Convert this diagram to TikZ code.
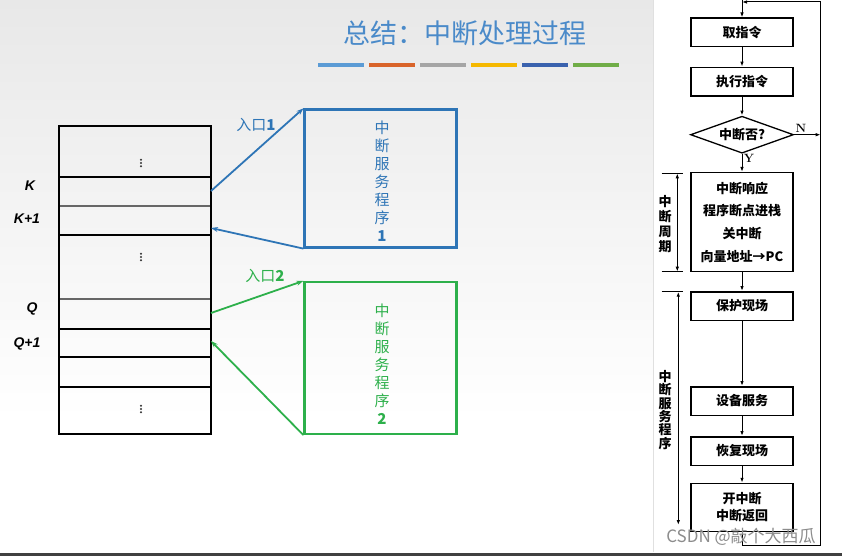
\documentclass[tikz,border=0pt]{standalone}
\usepackage{fontspec}
\newfontfamily\cjk{Noto Sans CJK SC}
\newfontfamily\arialf{Liberation Sans}
\usetikzlibrary{arrows.meta,shapes.geometric,positioning}

\definecolor{titleblue}{HTML}{4A8AC9}
\definecolor{entblue}{HTML}{2E75B6}
\definecolor{entgreen}{HTML}{2DB04B}
\definecolor{barblue}{HTML}{5B9BD5}
\definecolor{barorange}{HTML}{D9642A}
\definecolor{bargray}{HTML}{A5A5A5}
\definecolor{baryellow}{HTML}{F5B800}
\definecolor{bardkblue}{HTML}{3A62AE}
\definecolor{bargreen}{HTML}{70AD47}

\tikzset{
  cell/.style={draw, line width=1.6pt},
  lbl/.style={font=\arialf\bfseries\itshape\fontsize{14}{16}\selectfont},
  svcbox/.style={draw, line width=2.2pt, minimum width=152pt, minimum height=138pt},
  vtext/.style={align=center, font=\cjk\fontsize{15}{18}\selectfont},
  entry/.style={line width=1.8pt, -{Stealth[length=7pt,width=5pt]}},
  fbox/.style={draw, line width=1.5pt, minimum width=102pt, minimum height=28.5pt,
    fill=white, align=center, font=\cjk\bfseries\fontsize{13}{22.7}\selectfont},
  flow/.style={line width=1pt, -{Latex[length=5pt,width=3.5pt]}},
  span/.style={line width=1pt, {Latex[length=5pt,width=3.5pt]}-{Latex[length=5pt,width=3.5pt]}}
}

\begin{document}
\begin{tikzpicture}[x=1pt,y=-1pt]
  % slide background
  \useasboundingbox (0,0) rectangle (842,556);
  \fill[white] (0,0) rectangle (842,556);
  \shade[top color=black!9, bottom color=white] (0,0) rectangle (653,420);
  \fill[white] (653,0) rectangle (842,552);
  \draw[black!12, line width=1pt] (653,0) -- (653,552);
  \fill[black!75] (0,552.5) rectangle (842,556);

  % title and colour bars
  \node[titleblue, font=\cjk\fontsize{27}{30}\selectfont] (title) at (465,33) {总结：中断处理过程};
  \foreach \c [count=\i] in {barblue,barorange,bargray,baryellow,bardkblue,bargreen}
    \fill[\c] ({318+(\i-1)*51},63.5) rectangle ++(45.5,4);

  % memory cells
  \draw[cell] (59,126) rectangle (211,434);
  \foreach \y in {177,235,329,357,387}
    \draw[cell] (59,\y) -- (211,\y);
  \foreach \y in {206,299}
    \draw[cell, black!60, line width=2.2pt] (60,\y) -- (210,\y);
  \foreach \y in {163,257,409}
    \foreach \d in {-3.2,0,3.2}
      \fill[black!80] (141,\y+\d) circle (1.1);
  \node[lbl] (kl) at (30,186) {K};
  \node[lbl] (k1l) at (27,219) {K+1};
  \node[lbl] (ql) at (32,309) {Q};
  \node[lbl] (q1l) at (27,344) {Q+1};
  \coordinate (kout) at (211,191);
  \coordinate (kin) at (211,228);
  \coordinate (qout) at (211,313);
  \coordinate (qin) at (211,341);

  % service routines
  \node[svcbox, draw=entblue] (svc1) at (380.5,178.5) {};
  \node[vtext, entblue] (svc1t) at (382,181) {中\\断\\服\\务\\程\\序\\\textbf{1}};
  \node[svcbox, draw=entgreen, minimum height=152pt] (svc2) at (380.5,358) {};
  \node[vtext, entgreen] (svc2t) at (382,364) {中\\断\\服\\务\\程\\序\\\textbf{2}};

  \draw[entry, entblue] (kout) -- (svc1.north west);
  \draw[entry, entblue] (svc1.south west) -- (kin);
  \node[entblue, font=\cjk\fontsize{15}{17}\selectfont] (ent1) at (256,125) {入口\textbf{1}};
  \draw[entry, entgreen] (qout) -- (svc2.north west);
  \draw[entry, entgreen] (svc2.south west) -- (qin);
  \node[entgreen, font=\cjk\fontsize{15}{17}\selectfont] (ent2) at (265,276) {入口\textbf{2}};

  % flow chart
  \node[fbox] (fetch) at (742,32.5) {取指令};
  \node[fbox] (exec) at (742,81.7) {执行指令};
  \node[diamond, draw, line width=1.3pt, inner sep=0pt, aspect=2.8, minimum width=103pt,
    minimum height=37pt, fill=white, font=\cjk\bfseries\fontsize{13}{15}\selectfont] (ask) at (742,134.7) {中断否?};
  \node[fbox, minimum height=99pt] (resp) at (742,222.2) {中断响应\\程序断点进栈\\关中断\\向量地址→PC};
  \node[fbox] (save) at (742,306) {保护现场};
  \node[fbox] (serv) at (742,401) {设备服务};
  \node[fbox] (rest) at (742,451) {恢复现场};
  \node[fbox, minimum height=48pt, font=\cjk\bfseries\fontsize{13}{17}\selectfont] (ret) at (742,507.5) {开中断\\中断返回};
  \node[font=\bfseries\fontsize{12}{14}\selectfont] (nlab) at (801,128) {N};
  \node[font=\bfseries\fontsize{12}{14}\selectfont] (ylab) at (749,158) {Y};

  \coordinate (cin) at (742,0);
  \coordinate (ctop) at (742,2);
  \coordinate (rtop) at (820.7,2);
  \coordinate (rbot) at (820.7,545);
  \coordinate (cbot) at (742,545);

  \draw[flow] (cin) -- (fetch);
  \draw[flow] (fetch) -- (exec);
  \draw[flow] (exec) -- (ask);
  \draw[flow] (ask) -- (resp);
  \draw[flow] (resp) -- (save);
  \draw[flow] (save) -- (serv);
  \draw[flow] (serv) -- (rest);
  \draw[flow] (rest) -- (ret);
  \draw[flow] (ask.east) -- (ask.east -| rtop);
  \draw[line width=1pt] (ret) -- (cbot) -- (rbot) -- (rtop);
  \draw[flow] (rtop) -- (ctop);

  % spans
  \coordinate (cyt) at (677.3,173.3);
  \coordinate (cyb) at (677.3,271.7);
  \coordinate (svt) at (678.3,291.7);
  \coordinate (svb) at (678.3,525);
  \draw[line width=1pt] (661.7,173.3) -- (683.3,173.3);
  \draw[line width=1pt] (661.7,271.7) -- (683.3,271.7);
  \draw[line width=1pt] (661.7,291.7) -- (683.3,291.7);
  \draw[span] (cyt) -- (cyb);
  \draw[span] (svt) -- (svb);
  \node[align=center, font=\cjk\bfseries\fontsize{13}{15}\selectfont] (cyc) at (665,224) {中\\断\\周\\期};
  \node[align=center, font=\cjk\bfseries\fontsize{13}{13.3}\selectfont] (isr) at (665,410) {中\\断\\服\\务\\程\\序};

  % watermark
  \node[black!45, font=\cjk\fontsize{17}{19}\selectfont] (mark) at (741,537) {CSDN @敲个大西瓜};
\end{tikzpicture}
\end{document}
